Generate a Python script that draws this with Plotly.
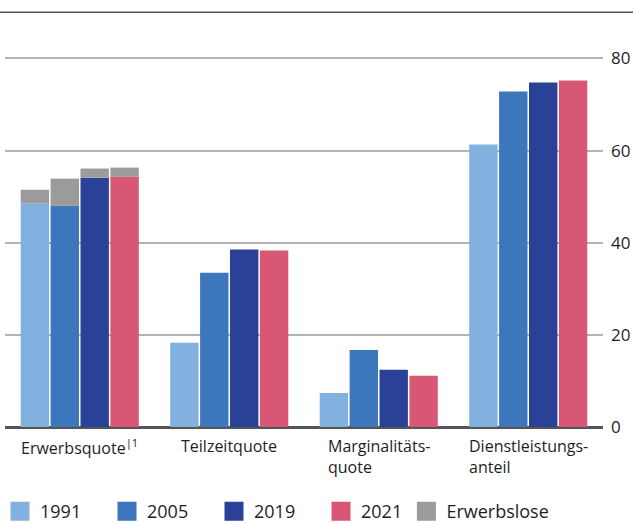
import plotly.graph_objects as go

categories = ["Erwerbsquote", "Teilzeitquote", "Marginalitätsquote", "Dienstleistungsanteil"]
category_labels = ["Erwerbsquote<sup>|1</sup>", "Teilzeitquote", "Marginalitäts-<br>quote", "Dienstleistungs-<br>anteil"]
years = ["1991", "2005", "2019", "2021"]
values_1991 = [48.5, 18.3, 7.4, 61.3]
values_2005 = [48.0, 33.5, 16.7, 72.8]
values_2019 = [54.1, 38.5, 12.4, 74.8]
values_2021 = [54.3, 38.3, 11.1, 75.2]
erwerbslose = [3.0, 5.9, 2.0, 2.0]  # on top of Erwerbsquote, per year
y_ticks = [0, 20, 40, 60, 80]

series = [values_1991, values_2005, values_2019, values_2021]
colors = ["#82b1e0", "#3c76bd", "#2a4198", "#d85774"]
gray = "#9b9b9b"
FONT = "Open Sans"

fig = go.Figure()
for i, (yr, vals, col) in enumerate(zip(years, series, colors)):
    fig.add_trace(go.Bar(
        x=categories, y=vals, name=yr, marker_color=col, marker_line_width=0,
        offsetgroup=str(i), showlegend=False))
for i, yr in enumerate(years):
    fig.add_trace(go.Bar(
        x=[categories[0]], y=[erwerbslose[i]], base=[series[i][0]],
        name="Erwerbslose", marker_color=gray, marker_line_width=0,
        offsetgroup=str(i), showlegend=False))

# legend entries with larger square symbols
for name, col in zip(years, colors):
    fig.add_trace(go.Scatter(
        x=[None], y=[None], mode="markers", name=name, legend="legend",
        marker=dict(symbol="square", size=16, color=col, line=dict(color=col, width=3)),
        showlegend=True))
fig.add_trace(go.Scatter(
    x=[None], y=[None], mode="markers", name="Erwerbslose", legend="legend2",
    marker=dict(symbol="square", size=16, color=gray, line=dict(color=gray, width=3)),
    showlegend=True))

for cat, lab in zip(categories, category_labels):
    fig.add_annotation(x=cat, y=0, xref="x", yref="y", text=lab, showarrow=False,
                       xanchor="center", yanchor="top", align="left", yshift=-6,
                       font=dict(family=FONT, size=16, color="#1e1e1e"))

fig.add_shape(type="line", xref="paper", yref="paper", x0=-0.02, x1=1.06,
              y0=1.072, y1=1.072, line=dict(color="#555", width=1.5))

legend_font = dict(family=FONT, size=18, color="#1e1e1e")
fig.update_layout(
    width=633, height=523,
    margin=dict(l=5, r=30, t=40, b=96, autoexpand=False),
    barmode="group", bargap=0.2, bargroupgap=0.05,
    plot_bgcolor="white", paper_bgcolor="white",
    font=dict(family=FONT, size=16, color="#1e1e1e"),
    showlegend=True,
    legend=dict(orientation="h", xref="container", yref="container",
                x=-0.0095, xanchor="left", y=0.022, yanchor="middle",
                entrywidth=62, traceorder="normal", font=legend_font, itemwidth=30),
    legend2=dict(orientation="h", xref="container", yref="container",
                 x=0.642, xanchor="left", y=0.022, yanchor="middle",
                 font=legend_font, itemwidth=30),
    xaxis=dict(showticklabels=False, showgrid=False, zeroline=False, showline=False,
               fixedrange=True),
    yaxis=dict(side="right", range=[0, 84], tickvals=y_ticks, showgrid=True,
               gridcolor="#b3b3b3", gridwidth=1.5, zeroline=True, zerolinecolor="#555",
               zerolinewidth=2.5, ticks="", ticklabelstandoff=7, automargin=False,
               ticklabeloverflow="allow",
               tickfont=dict(family=FONT, size=17, color="#1e1e1e")),
)

fig.write_html("out.html", config={"displayModeBar": False},
               post_script="document.body.style.margin='0px';document.body.style.overflow='hidden';")
